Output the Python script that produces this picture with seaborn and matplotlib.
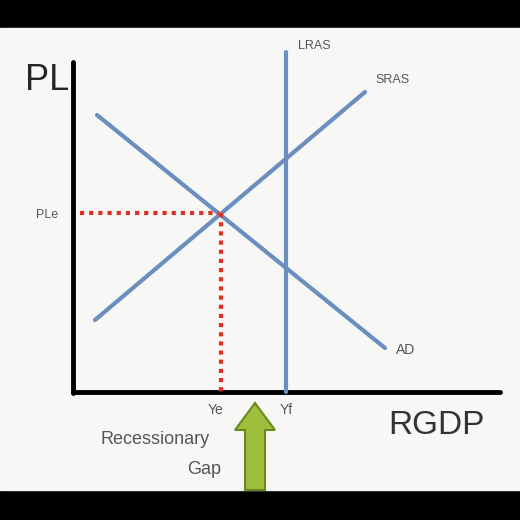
import matplotlib
matplotlib.use("Agg")
import matplotlib.pyplot as plt
import seaborn as sns
import pandas as pd

sns.set_style("white")
plt.rcParams['font.family'] = ['Liberation Sans', 'DejaVu Sans']

# diagram coordinates (pixel-like units, y grows downward)
ad_x = [97, 385]
ad_y = [115, 348]
sras_x = [95, 365]
sras_y = [320, 92]
lras_x = [286, 286]
lras_y = [52, 392]
eq_x, eq_y = 219, 213

lines = pd.DataFrame({
    "x": ad_x + sras_x + lras_x,
    "y": ad_y + sras_y + lras_y,
    "curve": ["AD"] * 2 + ["SRAS"] * 2 + ["LRAS"] * 2,
})

fig = plt.figure(figsize=(5.2, 5.2), dpi=100)
fig.patch.set_facecolor("black")
ax = fig.add_axes([0, 0, 1, 1])
ax.set_xlim(0, 520)
ax.set_ylim(520, 0)
ax.axis("off")
ax.add_patch(plt.Rectangle((0, 28), 520, 462, color="#f7f7f5", zorder=0))

# axes
ax.plot([73, 73], [62, 393], color="black", lw=3.5)
ax.plot([73, 500], [392, 392], color="black", lw=3.5)

sns.lineplot(data=lines, x="x", y="y", units="curve", estimator=None,
             color="#6a8fbf", lw=3, ax=ax, legend=False, sort=False)

# dotted guides
ax.plot([80, eq_x], [eq_y, eq_y], color="#e03020", lw=3, ls=(0, (1, 1.2)))
ax.plot([eq_x + 2, eq_x + 2], [eq_y, 392], color="#e03020", lw=3, ls=(0, (1, 1.2)))

c = "#555555"
ax.text(25, 80, "PL", fontsize=26, va="center")
ax.text(36, 215, "PLe", fontsize=9, va="center", color=c)
ax.text(298, 46, "LRAS", fontsize=9, va="center", color=c)
ax.text(375, 80, "SRAS", fontsize=9, va="center", color=c)
ax.text(396, 350, "AD", fontsize=10, va="center", color=c)
ax.text(216, 410, "Ye", fontsize=10, ha="center", va="center", color=c)
ax.text(286, 410, "Yf", fontsize=10, ha="center", va="center", color=c)
ax.text(388, 425, "RGDP", fontsize=24, va="center", color="#333333")
ax.text(155, 440, "Recessionary", fontsize=13, ha="center", va="center", color=c)
ax.text(204, 470, "Gap", fontsize=13, ha="center", va="center", color=c)

ax.add_patch(plt.Polygon([[245, 490], [265, 490], [265, 430], [275, 430],
                          [255, 403], [235, 430], [245, 430]],
                         facecolor="#9fbe3c", edgecolor="#6a8a20", lw=1.5))

fig.savefig("out.png", dpi=100, facecolor="black")
